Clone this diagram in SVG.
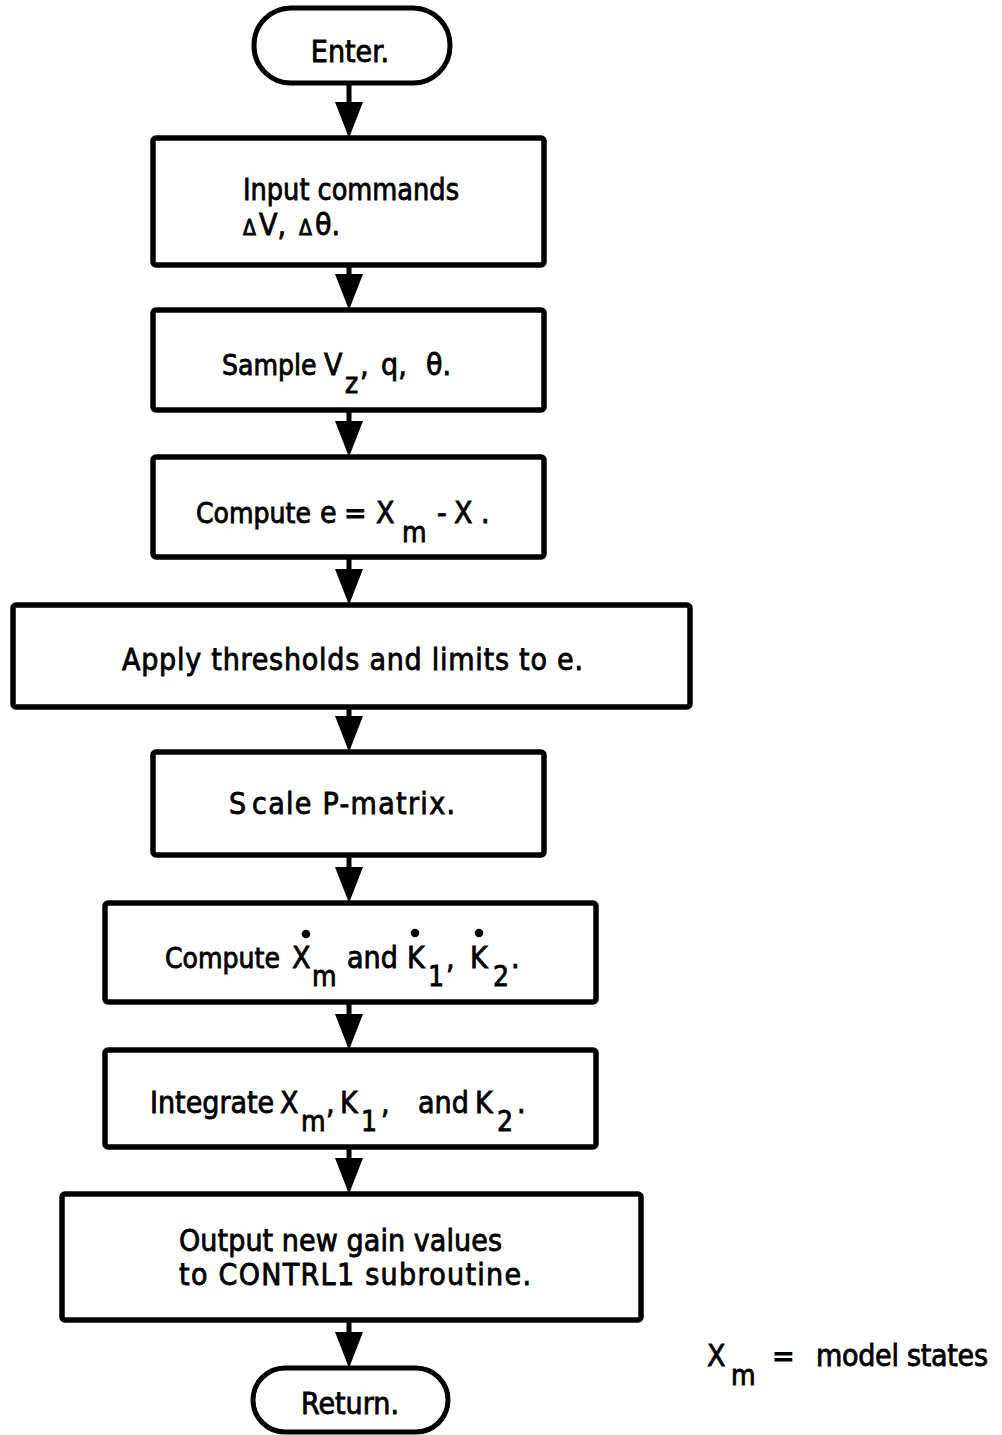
<svg xmlns="http://www.w3.org/2000/svg" width="1002" height="1435" viewBox="0 0 1002 1435">
  <defs>
    <style>
      .box { fill: #fff; stroke: #000; stroke-width: 5.5; }
      .term { fill: #fff; stroke: #000; stroke-width: 5; }
      .t { font-family: "DejaVu Sans Condensed", "DejaVu Sans", "Liberation Sans", sans-serif; font-stretch: condensed; font-size: 30px; fill: #000; stroke: #000; stroke-width: 0.8; }
      .n { font-size: 28px; }
      .d { font-size: 21px; }
      .s { font-size: 28px; }
      .mid { text-anchor: middle; }
      .flow { stroke: #000; stroke-width: 5; fill: none; }
      .dot { fill: #000; }
    </style>
    <marker id="head" markerUnits="userSpaceOnUse" markerWidth="36" markerHeight="28" refX="16" refY="14" orient="auto">
      <path d="M0,0 L36,14 L0,28 Z" fill="#000"/>
    </marker>
  </defs>
  <rect width="1002" height="1435" fill="#fff"/>

  <!-- connectors: each ends 20px short so the arrow tip lands on the next outline -->
  <g id="connectors">
    <line class="flow" x1="349" y1="82" x2="349" y2="118" marker-end="url(#head)"/>
    <line class="flow" x1="349" y1="265" x2="349" y2="290" marker-end="url(#head)"/>
    <line class="flow" x1="349" y1="410" x2="349" y2="437" marker-end="url(#head)"/>
    <line class="flow" x1="349" y1="557" x2="349" y2="585" marker-end="url(#head)"/>
    <line class="flow" x1="349" y1="707" x2="349" y2="732" marker-end="url(#head)"/>
    <line class="flow" x1="349" y1="855" x2="349" y2="883" marker-end="url(#head)"/>
    <line class="flow" x1="349" y1="1002" x2="349" y2="1030" marker-end="url(#head)"/>
    <line class="flow" x1="349" y1="1147" x2="349" y2="1174" marker-end="url(#head)"/>
    <line class="flow" x1="349" y1="1320" x2="349" y2="1348" marker-end="url(#head)"/>
  </g>

  <g id="enter">
    <rect class="term" x="254" y="8" width="196" height="75" rx="37"/>
    <text class="t mid" x="350" y="62">Enter.</text>
  </g>

  <g id="input-commands">
    <rect class="box" x="153" y="138" width="391" height="127" rx="3"/>
    <text class="t" x="243" y="200" textLength="216" lengthAdjust="spacingAndGlyphs">Input commands</text>
    <text class="t" y="235"><tspan class="d" x="243">Δ</tspan><tspan x="259">V,</tspan><tspan class="d" x="299">Δ</tspan><tspan x="315">θ.</tspan></text>
  </g>

  <g id="sample">
    <rect class="box" x="153" y="310" width="391" height="100" rx="3"/>
    <text class="t" y="375"><tspan class="n" x="222">Sample</tspan><tspan x="324">V</tspan><tspan class="s" x="345" y="393">z</tspan><tspan x="360" y="375">,</tspan><tspan x="381">q,</tspan><tspan x="426">θ.</tspan></text>
  </g>

  <g id="compute-error">
    <rect class="box" x="153" y="457" width="391" height="100" rx="3"/>
    <text class="t" y="523"><tspan class="n" x="196">Compute</tspan><tspan x="320">e</tspan><tspan x="344">=</tspan><tspan x="376">X</tspan><tspan class="s" x="402" y="542">m</tspan><tspan x="437" y="523">-</tspan><tspan x="454">X</tspan><tspan x="481">.</tspan></text>
  </g>

  <g id="thresholds">
    <rect class="box" x="13" y="605" width="677" height="102" rx="3"/>
    <text class="t" x="122" y="670" textLength="461">Apply thresholds and limits to e.</text>
  </g>

  <g id="scale-p">
    <rect class="box" x="153" y="752" width="391" height="103" rx="3"/>
    <text class="t" y="814"><tspan x="229">S</tspan><tspan x="252" textLength="203">cale P-matrix.</tspan></text>
  </g>

  <g id="compute-rates">
    <rect class="box" x="105" y="903" width="491" height="99" rx="3"/>
    <text class="t" y="968"><tspan class="n" x="165">Compute</tspan><tspan x="292">X</tspan><tspan class="s" x="312" y="986">m</tspan><tspan x="347" y="968">and</tspan><tspan x="407">K</tspan><tspan class="s" x="428" y="986">1</tspan><tspan x="446" y="968">,</tspan><tspan x="470">K</tspan><tspan class="s" x="493" y="986">2</tspan><tspan x="511" y="968">.</tspan></text>
    <circle class="dot" cx="306" cy="934" r="4.3"/>
    <circle class="dot" cx="415" cy="933" r="4.3"/>
    <circle class="dot" cx="479" cy="933" r="4.3"/>
  </g>

  <g id="integrate">
    <rect class="box" x="105" y="1050" width="491" height="97" rx="3"/>
    <text class="t" y="1113"><tspan x="150">Integrate</tspan><tspan x="280">X</tspan><tspan class="s" x="301" y="1131">m</tspan><tspan x="326" y="1113">,</tspan><tspan x="340">K</tspan><tspan class="s" x="361" y="1131">1</tspan><tspan x="381" y="1113">,</tspan><tspan x="418">and</tspan><tspan x="475">K</tspan><tspan class="s" x="497" y="1131">2</tspan><tspan x="517" y="1113">.</tspan></text>
  </g>

  <g id="output-gains">
    <rect class="box" x="62" y="1194" width="579" height="126" rx="3"/>
    <text class="t" x="179" y="1251" textLength="323">Output new gain values</text>
    <text class="t" x="179" y="1285" textLength="352">to CONTRL1 subroutine.</text>
  </g>

  <g id="return">
    <rect class="term" x="253" y="1368" width="195" height="64" rx="32"/>
    <text class="t mid" x="350" y="1414">Return.</text>
  </g>

  <g id="legend">
    <text class="t" y="1366"><tspan x="707">X</tspan><tspan class="s" x="731" y="1385">m</tspan><tspan x="772" y="1366">=</tspan></text>
    <text class="t" x="816" y="1366" textLength="172">model states</text>
  </g>
</svg>
